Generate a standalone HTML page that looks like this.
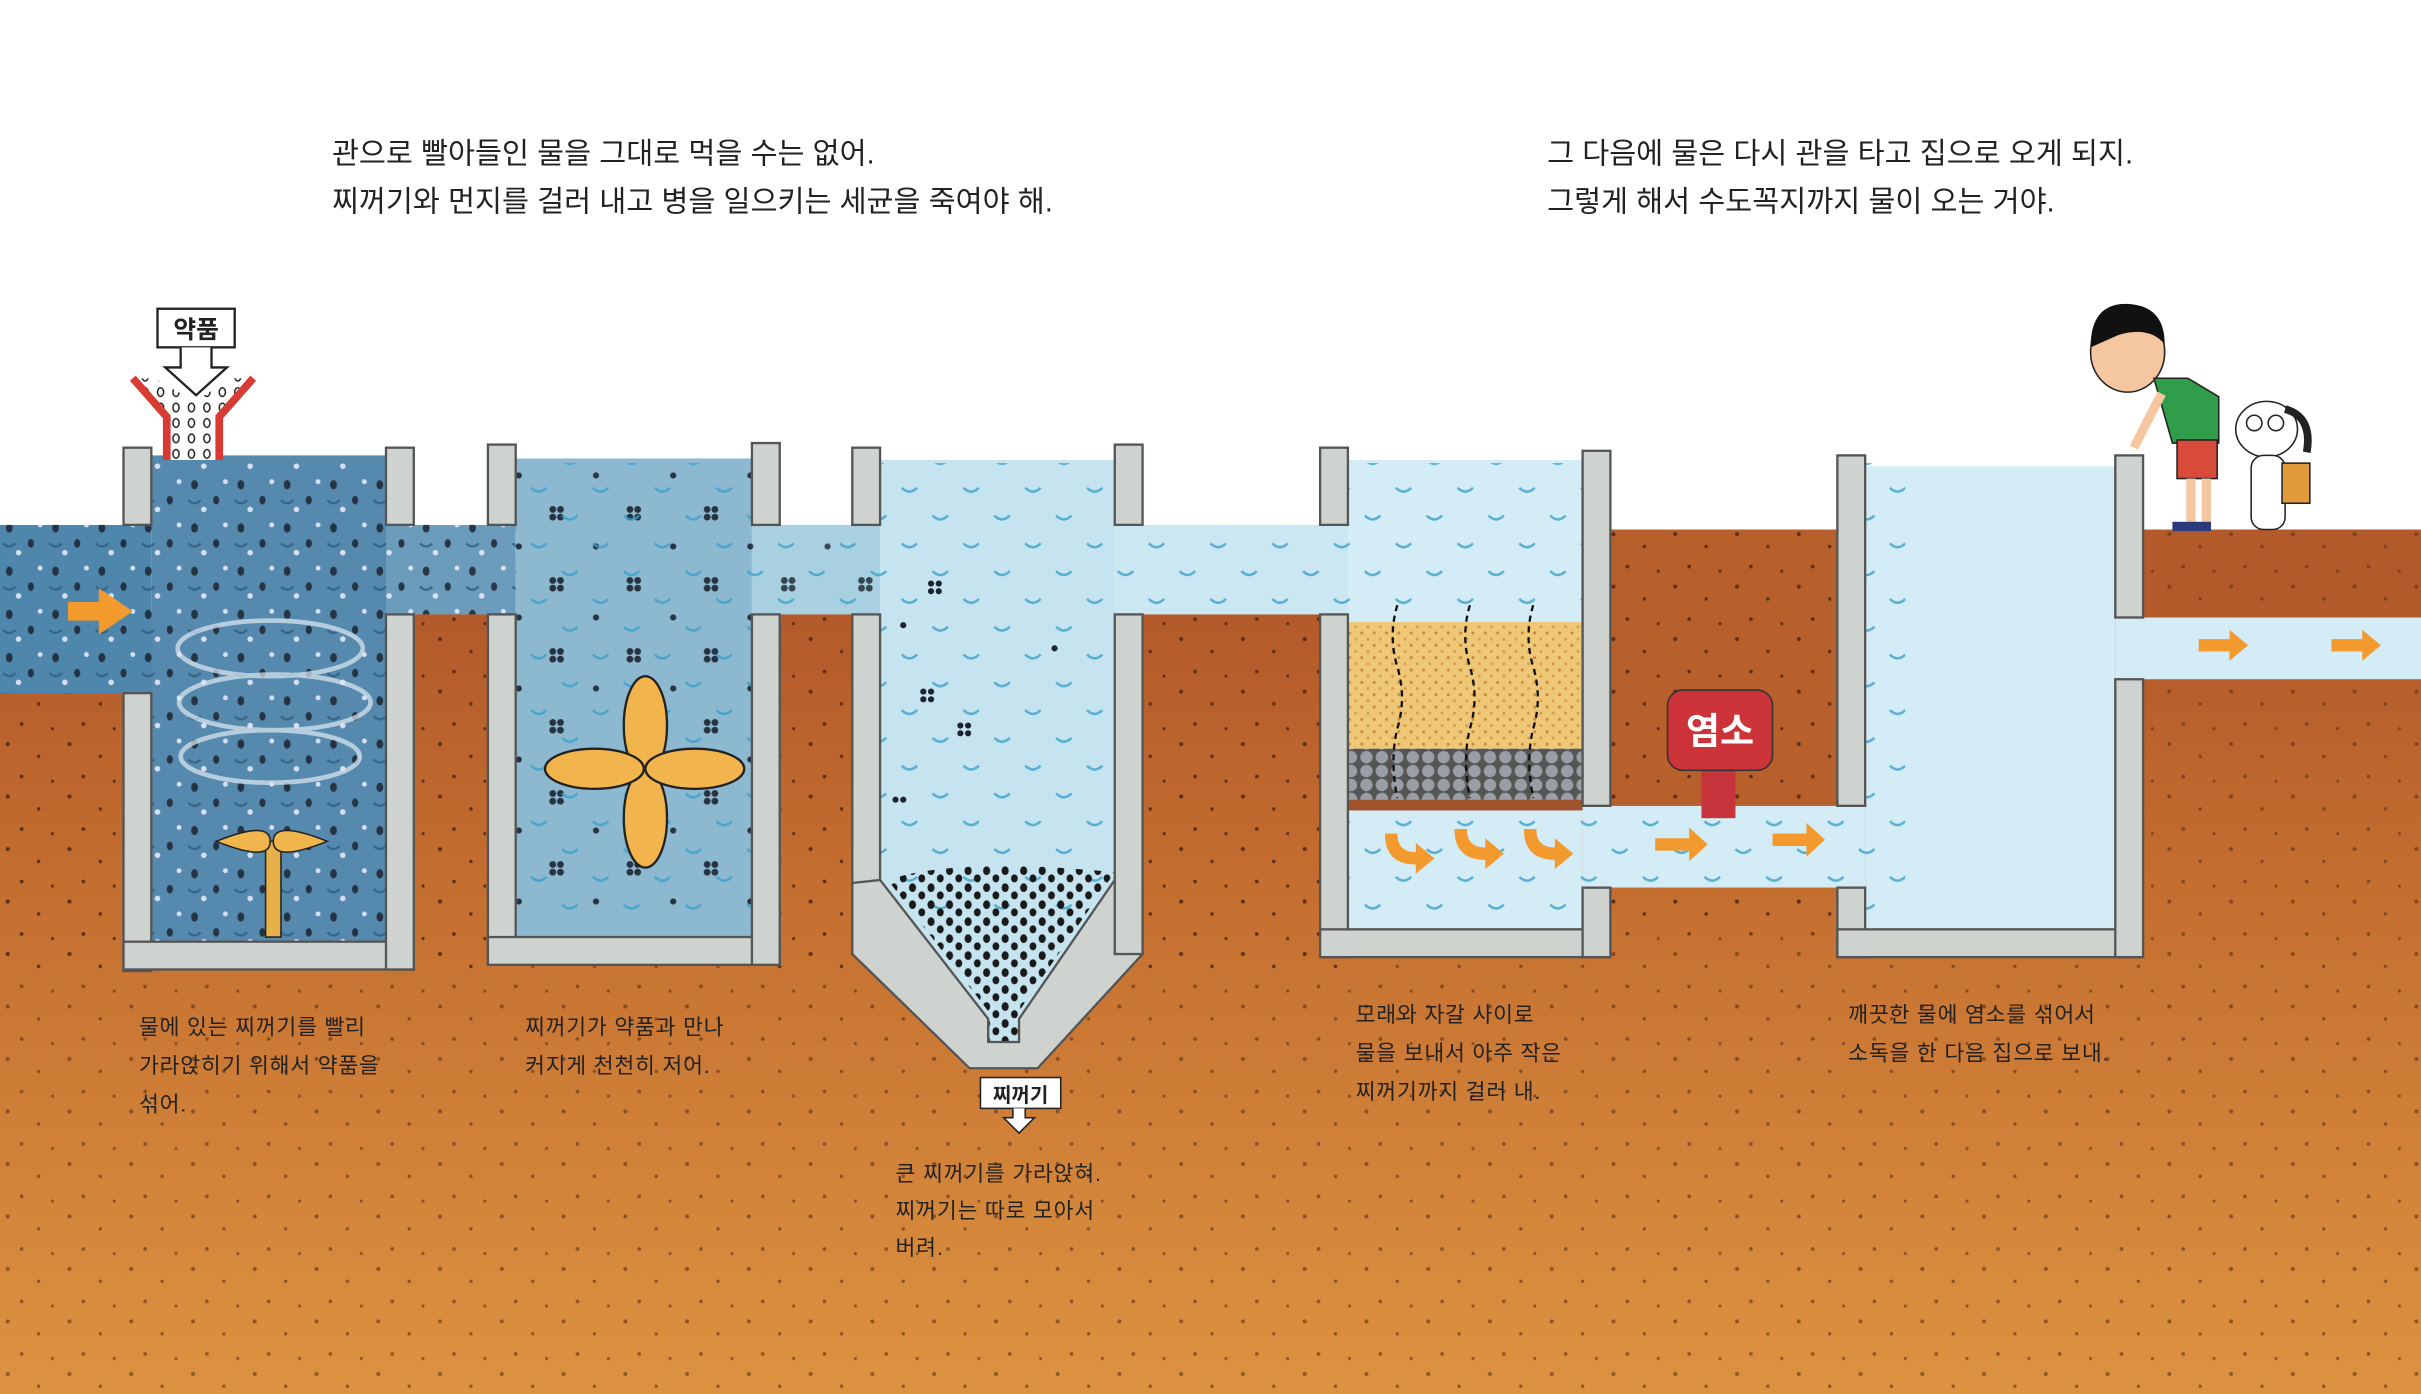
<!DOCTYPE html>
<html><head><meta charset="utf-8"><style>
html,body{margin:0;padding:0;background:#fff;}
svg{display:block}
text{font-family:"Liberation Sans","Noto Sans CJK KR","NanumGothic",sans-serif;fill:#222}
</style></head><body>
<svg width="2421" height="1394" viewBox="0 0 1568 903" preserveAspectRatio="none" xmlns="http://www.w3.org/2000/svg">
<defs>
<linearGradient id="soil" gradientUnits="userSpaceOnUse" x1="0" y1="398" x2="0" y2="903">
<stop offset="0" stop-color="#b35a2a"/><stop offset="0.35" stop-color="#c46e30"/><stop offset="1" stop-color="#dc9340"/>
</linearGradient>
<pattern id="sd" width="40" height="34" patternUnits="userSpaceOnUse">
<circle cx="5" cy="6" r="1.3" fill="#5a2e18"/><circle cx="25" cy="14" r="1.1" fill="#5a2e18"/><circle cx="14" cy="27" r="1.2" fill="#5a2e18"/><circle cx="34" cy="30" r="1" fill="#5a2e18"/>
</pattern>
<pattern id="dk" width="30" height="28" patternUnits="userSpaceOnUse">
<ellipse cx="6" cy="6" rx="2.2" ry="3" fill="#1c2430"/><ellipse cx="20" cy="16" rx="2" ry="2.8" fill="#1c2430"/><circle cx="12" cy="22" r="1.8" fill="#eef"/><circle cx="26" cy="4" r="1.6" fill="#eef"/>
<path d="M2 16 q4 4 8 0" stroke="#2f5f80" stroke-width="1.5" fill="none"/>
</pattern>
<pattern id="cl" width="50" height="46" patternUnits="userSpaceOnUse">
<circle cx="8" cy="8" r="2.2" fill="#1c2430"/><circle cx="13" cy="8" r="2.2" fill="#1c2430"/><circle cx="8" cy="13" r="2.2" fill="#1c2430"/><circle cx="13" cy="13" r="2.2" fill="#1c2430"/>
<circle cx="36" cy="32" r="2" fill="#1c2430"/>
</pattern>
<pattern id="wv" width="40" height="36" patternUnits="userSpaceOnUse">
<path d="M4 10 q5 5 10 0" stroke="#3aa0cc" stroke-width="1.6" fill="none"/><path d="M24 28 q5 5 10 0" stroke="#3aa0cc" stroke-width="1.6" fill="none"/>
</pattern>
<pattern id="sed" width="12" height="11" patternUnits="userSpaceOnUse">
<ellipse cx="3" cy="3" rx="2.3" ry="2.8" fill="#1a1a1a"/><ellipse cx="9" cy="8" rx="2.2" ry="2.6" fill="#1a1a1a"/>
</pattern>
<pattern id="pel" width="10" height="10" patternUnits="userSpaceOnUse">
<ellipse cx="4" cy="4" rx="2" ry="2.8" fill="none" stroke="#111" stroke-width="0.9"/>
</pattern>
<pattern id="sand" width="8" height="8" patternUnits="userSpaceOnUse">
<rect width="8" height="8" fill="#efc877"/><circle cx="2" cy="2" r="1" fill="#c98a3a"/><circle cx="6" cy="6" r="1" fill="#d89d4c"/>
</pattern>
<pattern id="grav" width="10" height="9" patternUnits="userSpaceOnUse">
<rect width="10" height="9" fill="#555"/><circle cx="5" cy="4.5" r="4" fill="#9a9ea6"/>
</pattern>
</defs>
<rect width="1568" height="903" fill="#fff"/>
<!-- soil -->
<rect x="0" y="398" width="1568" height="505" fill="url(#soil)"/>
<rect x="1043" y="343" width="150" height="60" fill="#b35a2a"/>
<rect x="1387" y="343" width="181" height="60" fill="#b35a2a"/>
<rect x="0" y="343" width="1568" height="560" fill="url(#sd)" opacity="0.6"/>
<rect x="740" y="300" width="115" height="98" fill="#fff"/>
<rect x="0" y="280" width="1043" height="62" fill="#fff"/>
<rect x="1043" y="280" width="147" height="63" fill="#fff"/>
<rect x="1387" y="280" width="181" height="63" fill="#fff"/>
<!-- water -->
<rect x="0" y="340" width="98" height="109" fill="#4f86ac"/>
<rect x="98" y="295" width="152" height="315" fill="#5689ae"/>
<rect x="250" y="340" width="84" height="58" fill="#6b9cbc"/>
<rect x="334" y="297" width="153" height="310" fill="#8cb8d0"/>
<rect x="487" y="340" width="83" height="58" fill="#a9d0e0"/>
<path d="M570 298 H722 V570 L660 660 V675 H640 V660 L570 570 Z" fill="#c6e4ef"/>
<rect x="722" y="340" width="151" height="58" fill="#cbe8f2"/>
<rect x="873" y="298" width="152" height="304" fill="#d3ecf5"/>
<rect x="1025" y="522" width="183" height="53" fill="#d3ecf5"/>
<rect x="1208" y="302" width="162" height="300" fill="#d3ecf5"/>
<rect x="1370" y="400" width="198" height="40" fill="#d3ecf5"/>
<!-- patterns -->
<rect x="0" y="300" width="334" height="310" fill="url(#dk)" opacity="0.85"/>
<rect x="334" y="300" width="153" height="300" fill="url(#cl)" opacity="0.9"/>
<rect x="487" y="345" width="83" height="50" fill="url(#cl)" opacity="0.8"/>
<g fill="#1c2430"><circle cx="603" cy="378" r="2"/><circle cx="608" cy="378" r="2"/><circle cx="603" cy="383" r="2"/><circle cx="608" cy="383" r="2"/>
<circle cx="598" cy="448" r="2"/><circle cx="603" cy="448" r="2"/><circle cx="598" cy="453" r="2"/><circle cx="603" cy="453" r="2"/>
<circle cx="622" cy="470" r="2"/><circle cx="627" cy="470" r="2"/><circle cx="622" cy="475" r="2"/><circle cx="627" cy="475" r="2"/>
<circle cx="585" cy="405" r="2"/><circle cx="683" cy="420" r="2"/><circle cx="580" cy="518" r="2"/><circle cx="585" cy="518" r="2"/></g>
<rect x="0" y="280" width="98" height="60" fill="#fff"/>
<rect x="0" y="449" width="98" height="180" fill="url(#soil)"/>
<rect x="250" y="398" width="84" height="230" fill="url(#soil)"/>
<rect x="250" y="280" width="84" height="60" fill="#fff"/>
<rect x="334" y="300" width="900" height="300" fill="url(#wv)" opacity="0.8"/>
<rect x="487" y="398" width="83" height="230" fill="url(#soil)"/>
<rect x="487" y="280" width="83" height="60" fill="#fff"/>
<rect x="722" y="398" width="151" height="230" fill="url(#soil)"/>
<rect x="722" y="280" width="151" height="60" fill="#fff"/>
<rect x="1025" y="343" width="183" height="179" fill="#b8602c"/>
<rect x="1025" y="280" width="183" height="63" fill="#fff"/>
<rect x="1025" y="575" width="183" height="30" fill="url(#soil)"/>
<g fill="url(#sd)">
<rect x="0" y="449" width="98" height="180"/><rect x="250" y="398" width="84" height="230"/><rect x="487" y="398" width="83" height="230"/><rect x="722" y="398" width="151" height="230"/><rect x="1025" y="343" width="183" height="179"/><rect x="1025" y="575" width="183" height="30"/>
</g>
<!-- sediment -->
<path d="M575 570 Q620 555 722 565 L660 655 V675 H640 V655 Z" fill="url(#sed)"/>
<!-- filters -->
<rect x="873" y="403" width="152" height="82" fill="url(#sand)"/>
<rect x="873" y="485" width="152" height="33" fill="url(#grav)"/>
<rect x="873" y="518" width="152" height="7" fill="#a0522d"/>
<g stroke="#111" stroke-width="1.5" fill="none" stroke-dasharray="4 3">
<path d="M905 392 q-6 20 0 40 q6 20 0 40 q-5 20 0 45"/><path d="M952 392 q-6 20 0 40 q6 20 0 40 q-5 20 0 45"/><path d="M993 392 q-6 20 0 40 q6 20 0 40 q-5 20 0 45"/></g>
<!-- walls -->
<g fill="#cfd3d0" stroke="#555" stroke-width="1.5">
<rect x="80" y="290" width="18" height="50"/><rect x="80" y="449" width="18" height="180"/><rect x="80" y="610" width="188" height="18"/>
<rect x="250" y="290" width="18" height="50"/><rect x="250" y="398" width="18" height="230"/>
<rect x="316" y="288" width="18" height="52"/><rect x="316" y="398" width="18" height="227"/><rect x="316" y="607" width="189" height="18"/>
<rect x="487" y="287" width="18" height="53"/><rect x="487" y="398" width="18" height="227"/>
<rect x="552" y="290" width="18" height="50"/><rect x="552" y="398" width="18" height="220"/>
<path d="M552 618 L628 692 H672 L740 618 V572 L722 570 L660 660 V675 H640 V660 L570 570 L552 572 Z"/>
<rect x="722" y="288" width="18" height="52"/><rect x="722" y="398" width="18" height="220"/>
<rect x="855" y="290" width="18" height="50"/><rect x="855" y="398" width="18" height="222"/><rect x="855" y="602" width="188" height="18"/>
<rect x="1025" y="292" width="18" height="230"/><rect x="1025" y="575" width="18" height="45"/>
<rect x="1190" y="295" width="18" height="227"/><rect x="1190" y="575" width="18" height="45"/><rect x="1190" y="602" width="197" height="18"/>
<rect x="1370" y="295" width="18" height="105"/><rect x="1370" y="440" width="18" height="180"/>
</g>
<!-- fan tank1 -->
<g stroke="#dfeaf3" stroke-width="3" fill="none" opacity="0.7">
<ellipse cx="175" cy="420" rx="60" ry="18"/><ellipse cx="178" cy="455" rx="62" ry="18"/><ellipse cx="175" cy="490" rx="58" ry="17"/></g>
<rect x="172" y="545" width="10" height="62" fill="#e8b04a" stroke="#222"/>
<path d="M140 545 q35 -14 35 0 q0 14 -35 0 Z M212 545 q-35 -14 -35 0 q0 14 35 0Z" fill="#f0b54c" stroke="#222"/>
<!-- propeller tank2 -->
<g fill="#f2b44c" stroke="#222" stroke-width="1.5">
<ellipse cx="418" cy="470" rx="14" ry="32"/><ellipse cx="418" cy="530" rx="14" ry="32"/><ellipse cx="385" cy="498" rx="32" ry="13"/><ellipse cx="450" cy="498" rx="32" ry="13"/></g>
<!-- arrows -->
<g fill="#f39a2e">
<path d="M44 390 h20 v-9 l22 15 l-22 15 v-9 h-20z"/>
<path d="M1072 543 h22 v-7 l12 11 l-12 11 v-7 h-22z"/><path d="M1148 540 h22 v-7 l12 11 l-12 11 v-7 h-22z"/>
<path d="M1424 414 h20 v-6 l12 10 l-12 10 v-6 h-20z"/><path d="M1510 414 h20 v-6 l12 10 l-12 10 v-6 h-20z"/>
<path d="M905 540 q0 12 12 12 v-6 l12 10 l-12 10 v-6 q-20 0 -20 -20z"/><path d="M950 537 q0 12 12 12 v-6 l12 10 l-12 10 v-6 q-20 0 -20 -20z"/><path d="M995 537 q0 12 12 12 v-6 l12 10 l-12 10 v-6 q-20 0 -20 -20z"/>
</g>
<!-- chemical funnel -->
<path d="M88 245 L110 270 V298 H140 V270 L162 245 L150 245 L126 260 L100 245Z" fill="#fff"/>
<path d="M88 245 L110 270 V298 H140 V270 L162 245 L150 245 L126 260 L100 245Z" fill="url(#pel)"/>
<path d="M86 245 L108 270 V298 M164 245 L142 270 V298" stroke="#d83a34" stroke-width="5" fill="none"/>
<rect x="102" y="200" width="50" height="25" fill="#fff" stroke="#222" stroke-width="1.5"/>
<text x="127" y="219" text-anchor="middle" font-size="16" font-weight="bold">약품</text>
<path d="M117 225 v13 h-10 l20 18 l20 -18 h-10 v-13" fill="#fff" stroke="#222" stroke-width="1.5"/>
<!-- sludge label -->
<rect x="635" y="698" width="52" height="20" fill="#fff" stroke="#222"/>
<text x="661" y="714" text-anchor="middle" font-size="13" font-weight="bold">찌꺼기</text>
<path d="M656 718 v6 h-6 l10 10 l10 -10 h-6 v-6" fill="#fff" stroke="#222"/>
<!-- chlorine -->
<rect x="1102" y="495" width="22" height="35" fill="#c7343b"/>
<rect x="1080" y="447" width="68" height="52" rx="10" fill="#cc343a" stroke="#333"/>
<text x="1114" y="482" text-anchor="middle" font-size="24" font-weight="bold" style="fill:#fff">염소</text>
<!-- boy -->
<ellipse cx="1378" cy="228" rx="24" ry="26" fill="#f4c7a0" stroke="#222"/>
<path d="M1354 225 q0 -30 26 -28 q22 2 22 26 q-10 -12 -30 -6 z" fill="#111"/>
<path d="M1395 245 l22 0 l20 12 v30 h-30 z" fill="#2f9d4a" stroke="#222"/>
<rect x="1410" y="285" width="26" height="25" fill="#d84a3a" stroke="#222"/>
<rect x="1416" y="310" width="6" height="30" fill="#f4c7a0"/><rect x="1426" y="310" width="6" height="30" fill="#f4c7a0"/>
<rect x="1407" y="338" width="25" height="6" fill="#2a3a7a"/>
<path d="M1400 255 l-18 35" stroke="#f4c7a0" stroke-width="6"/>
<!-- dog -->
<ellipse cx="1468" cy="278" rx="20" ry="18" fill="#fff" stroke="#222"/>
<path d="M1480 265 q18 5 14 28" stroke="#222" stroke-width="5" fill="none"/>
<circle cx="1460" cy="274" r="5" fill="none" stroke="#222"/><circle cx="1474" cy="274" r="5" fill="none" stroke="#222"/>
<rect x="1458" y="295" width="22" height="48" rx="8" fill="#fff" stroke="#222"/>
<rect x="1478" y="300" width="18" height="26" fill="#e09a3a" stroke="#222"/>
<!-- texts -->
<g font-size="19">
<text x="215" y="106">관으로 빨아들인 물을 그대로 먹을 수는 없어.</text>
<text x="215" y="137">찌꺼기와 먼지를 걸러 내고 병을 일으키는 세균을 죽여야 해.</text>
<text x="1002" y="106">그 다음에 물은 다시 관을 타고 집으로 오게 되지.</text>
<text x="1002" y="137">그렇게 해서 수도꼭지까지 물이 오는 거야.</text>
</g>
<g font-size="14" style="letter-spacing:0.5px">
<text x="90" y="670">물에 있는 찌꺼기를 빨리</text><text x="90" y="695">가라앉히기 위해서 약품을</text><text x="90" y="720">섞어.</text>
<text x="340" y="670">찌꺼기가 약품과 만나</text><text x="340" y="695">커지게 천천히 저어.</text>
<text x="580" y="765">큰 찌꺼기를 가라앉혀.</text><text x="580" y="789">찌꺼기는 따로 모아서</text><text x="580" y="813">버려.</text>
<text x="878" y="662">모래와 자갈 사이로</text><text x="878" y="687">물을 보내서 아주 작은</text><text x="878" y="712">찌꺼기까지 걸러 내.</text>
<text x="1197" y="662">깨끗한 물에 염소를 섞어서</text><text x="1197" y="687">소독을 한 다음 집으로 보내.</text>
</g>
</svg>
</body></html>
